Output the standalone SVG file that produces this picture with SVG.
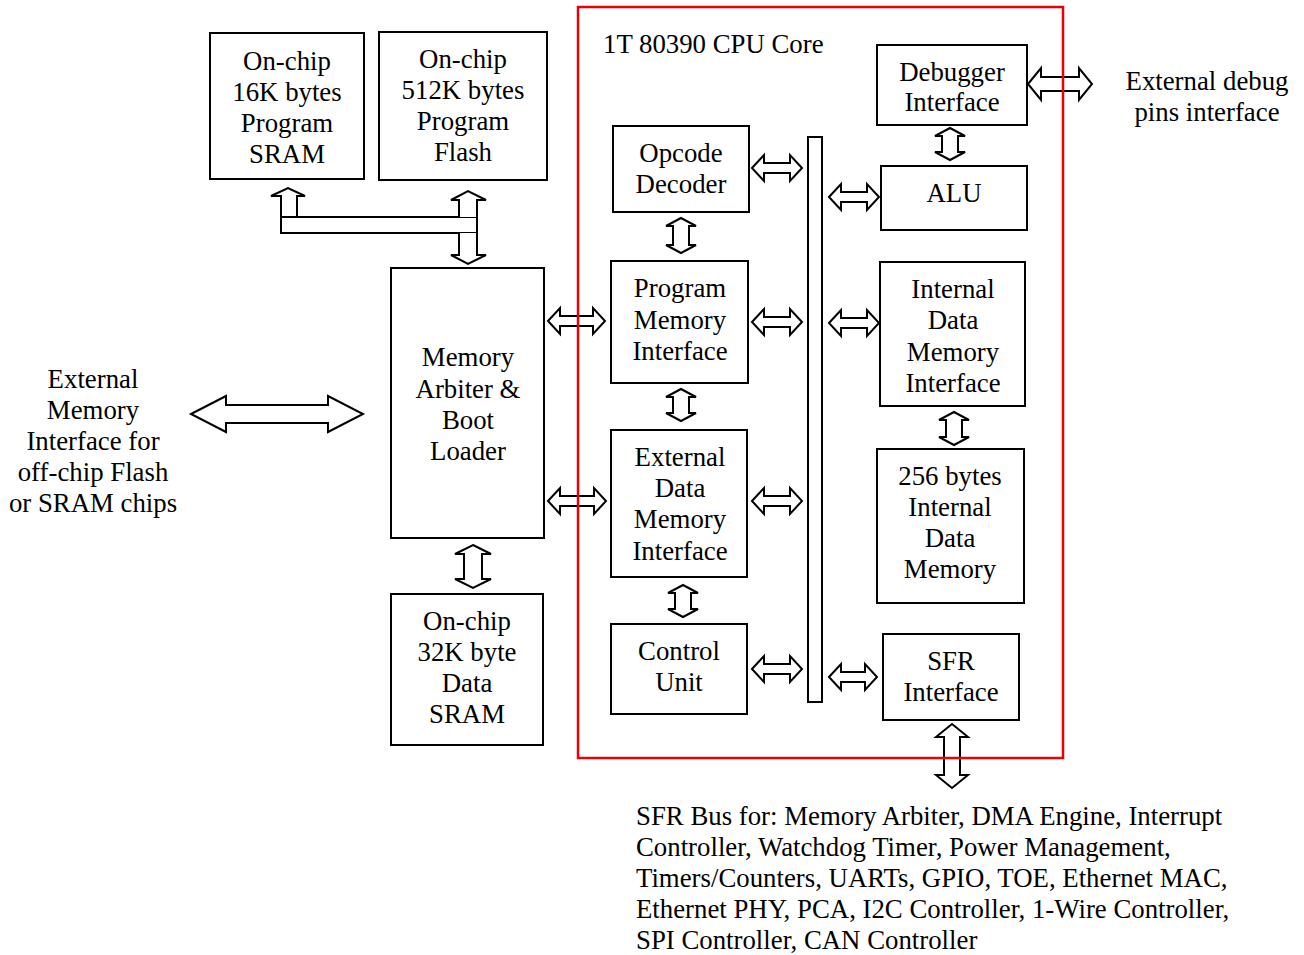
<svg xmlns="http://www.w3.org/2000/svg" width="1304" height="955" viewBox="0 0 1304 955">
<style>
.box{fill:#fff;stroke:#000;stroke-width:2}
.arr{fill:#fff;stroke:#000;stroke-width:2;stroke-linejoin:miter}
.t{font-family:"Liberation Serif","Times New Roman",serif;font-size:26.8px;fill:#000}
.c{text-anchor:middle}
.core{fill:none;stroke:#e8000b;stroke-width:2.5}
</style>
<rect width="1304" height="955" fill="#fff"/>

<g id="sram16k">
<rect class="box" x="210" y="33" width="154" height="146"/>
<text class="t c" x="287" y="70">On-chip</text>
<text class="t c" x="287" y="101">16K bytes</text>
<text class="t c" x="287" y="132">Program</text>
<text class="t c" x="287" y="163">SRAM</text>
</g>
<g id="flash512k">
<rect class="box" x="379" y="32" width="168" height="148"/>
<text class="t c" x="463" y="68">On-chip</text>
<text class="t c" x="463" y="99">512K bytes</text>
<text class="t c" x="463" y="130">Program</text>
<text class="t c" x="463" y="161">Flash</text>
</g>
<g id="arbiter">
<rect class="box" x="391" y="268" width="153" height="270"/>
<text class="t c" x="468" y="366">Memory</text>
<text class="t c" x="468" y="398">Arbiter &amp;</text>
<text class="t c" x="468" y="429">Boot</text>
<text class="t c" x="468" y="460">Loader</text>
</g>
<g id="sram32k">
<rect class="box" x="391" y="594" width="152" height="151"/>
<text class="t c" x="467" y="630">On-chip</text>
<text class="t c" x="467" y="661">32K byte</text>
<text class="t c" x="467" y="692">Data</text>
<text class="t c" x="467" y="723">SRAM</text>
</g>
<g id="extmem">
<text class="t c" x="93" y="388">External</text>
<text class="t c" x="93" y="419">Memory</text>
<text class="t c" x="93" y="450">Interface for</text>
<text class="t c" x="93" y="481">off-chip Flash</text>
<text class="t c" x="93" y="512">or SRAM chips</text>
</g>
<g id="opcode">
<rect class="box" x="613" y="126" width="136" height="86"/>
<text class="t c" x="681" y="162">Opcode</text>
<text class="t c" x="681" y="193">Decoder</text>
</g>
<g id="pmi">
<rect class="box" x="611" y="261" width="137" height="122"/>
<text class="t c" x="680" y="297">Program</text>
<text class="t c" x="680" y="329">Memory</text>
<text class="t c" x="680" y="360">Interface</text>
</g>
<g id="edmi">
<rect class="box" x="611" y="430" width="136" height="147"/>
<text class="t c" x="680" y="466">External</text>
<text class="t c" x="680" y="497">Data</text>
<text class="t c" x="680" y="528">Memory</text>
<text class="t c" x="680" y="560">Interface</text>
</g>
<g id="control">
<rect class="box" x="611" y="624" width="136" height="90"/>
<text class="t c" x="679" y="660">Control</text>
<text class="t c" x="679" y="691">Unit</text>
</g>
<g id="bus">
<rect class="box" x="808" y="137" width="14" height="565"/>
</g>
<g id="debugger">
<rect class="box" x="877" y="45" width="150" height="80"/>
<text class="t c" x="952" y="81">Debugger</text>
<text class="t c" x="952" y="111">Interface</text>
</g>
<g id="extdebug">
<text class="t c" x="1207" y="90">External debug</text>
<text class="t c" x="1207" y="121">pins interface</text>
</g>
<g id="alu">
<rect class="box" x="881" y="166" width="146" height="64"/>
<text class="t c" x="954" y="202">ALU</text>
</g>
<g id="idmi">
<rect class="box" x="880" y="262" width="145" height="144"/>
<text class="t c" x="953" y="298">Internal</text>
<text class="t c" x="953" y="329">Data</text>
<text class="t c" x="953" y="361">Memory</text>
<text class="t c" x="953" y="392">Interface</text>
</g>
<g id="idm256">
<rect class="box" x="877" y="449" width="147" height="154"/>
<text class="t c" x="950" y="485">256 bytes</text>
<text class="t c" x="950" y="516">Internal</text>
<text class="t c" x="950" y="547">Data</text>
<text class="t c" x="950" y="578">Memory</text>
</g>
<g id="sfr">
<rect class="box" x="883" y="634" width="136" height="86"/>
<text class="t c" x="951" y="670">SFR</text>
<text class="t c" x="951" y="701">Interface</text>
</g>
<g id="sfrbus">
<text class="t" x="636" y="825">SFR Bus for: Memory Arbiter, DMA Engine, Interrupt</text>
<text class="t" x="636" y="856">Controller, Watchdog Timer, Power Management,</text>
<text class="t" x="636" y="887">Timers/Counters, UARTs, GPIO, TOE, Ethernet MAC,</text>
<text class="t" x="636" y="918">Ethernet PHY, PCA, I2C Controller, 1-Wire Controller,</text>
<text class="t" x="636" y="949">SPI Controller, CAN Controller</text>
</g>

<g id="connectors">
<path class="arr" d="M281,217 V196 H271 L288,188 L305,196 H297 V217"/>
<rect class="arr" x="281" y="217" width="196" height="16"/>
<path class="arr" d="M459,217 V200 H451 L468,191 L486,200 H477 V217"/>
<path class="arr" d="M459,233 V255 H451 L468,264 L486,255 H477 V233"/>
<path class="arr" d="M191,414 L226,396 V405 H328 V396 L363,414 L328,432 V423 H226 V432 Z"/>
<path class="arr" d="M548,321 L560,308 V316 H593 V308 L605,321 L593,334 V326 H560 V334 Z"/>
<path class="arr" d="M548,501 L560,488 V496 H594 V488 L606,501 L594,514 V506 H560 V514 Z"/>
<path class="arr" d="M752,168 L764,155 V163 H790 V155 L802,168 L790,181 V173 H764 V181 Z"/>
<path class="arr" d="M752,322 L764,309 V317 H790 V309 L802,322 L790,335 V327 H764 V335 Z"/>
<path class="arr" d="M752,501 L764,488 V496 H790 V488 L802,501 L790,514 V506 H764 V514 Z"/>
<path class="arr" d="M752,669 L764,656 V664 H790 V656 L802,669 L790,682 V674 H764 V682 Z"/>
<path class="arr" d="M829,197 L841,184 V192 H867 V184 L879,197 L867,210 V202 H841 V210 Z"/>
<path class="arr" d="M829,323 L841,310 V318 H867 V310 L879,323 L867,336 V328 H841 V336 Z"/>
<path class="arr" d="M829,677 L841,664 V672 H865 V664 L877,677 L865,690 V682 H841 V690 Z"/>
<path class="arr" d="M1028,84 L1041,68 V77 H1079 V68 L1092,84 L1079,100 V91 H1041 V100 Z"/>
<path class="arr" d="M681,218 L696,226 H689 V245 H696 L681,253 L666,245 H673 V226 H666 Z"/>
<path class="arr" d="M681,389 L696,397 H689 V413 H696 L681,421 L666,413 H673 V397 H666 Z"/>
<path class="arr" d="M683,585 L698,593 H691 V609 H698 L683,617 L668,609 H675 V593 H668 Z"/>
<path class="arr" d="M950,128 L965,136 H958 V152 H965 L950,160 L935,152 H942 V136 H935 Z"/>
<path class="arr" d="M954,412 L969,420 H962 V437 H969 L954,445 L939,437 H946 V420 H939 Z"/>
<path class="arr" d="M473,545 L491,554 H482 V579 H491 L473,588 L455,579 H464 V554 H455 Z"/>
<path class="arr" d="M952,724 L968,737 H960 V775 H968 L952,788 L936,775 H944 V737 H936 Z"/>
</g>

<g id="cpucore">
<rect class="core" x="578" y="7" width="485" height="751"/>
<text class="t" x="603" y="53">1T 80390 CPU Core</text>
</g>
</svg>
